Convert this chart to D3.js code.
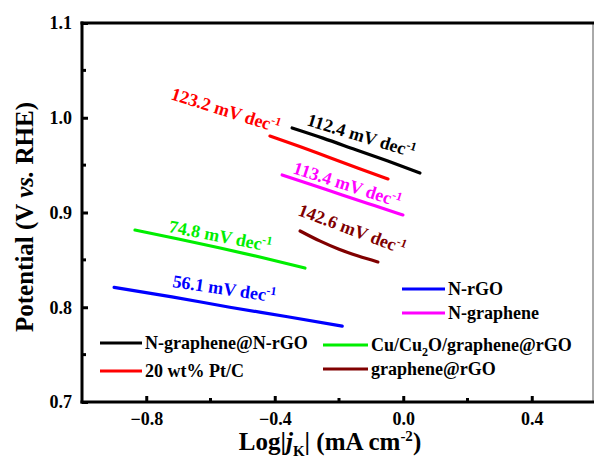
<!DOCTYPE html>
<html>
<head>
<meta charset="utf-8">
<script src="https://cdn.jsdelivr.net/npm/d3@7"></script>
<style>
  html, body { margin: 0; padding: 0; background: #fff; }
  svg { display: block; }
</style>
</head>
<body>
<svg id="chart" width="595" height="461"></svg>
<script>
// Tafel data: log|jK| (mA cm^-2) vs potential (V vs. RHE)
const seriesNames = ["N-graphene@N-rGO", "20 wt% Pt/C", "N-rGO", "N-graphene", "Cu/Cu2O/graphene@rGO", "graphene@rGO"];
const seriesColors = ["#000000", "#ff0000", "#0000ff", "#ff00ff", "#00ee00", "#800000"];

const blackX = [-0.346, -0.25, -0.15, -0.05, 0.052];
const blackY = [0.9892, 0.9785, 0.9665, 0.9545, 0.9417];
const redX = [-0.415, -0.32, -0.23, -0.14, -0.0475];
const redY = [0.9807, 0.9693, 0.9580, 0.9468, 0.9354];
const blueX = [-0.90, -0.72, -0.54, -0.36, -0.19];
const blueY = [0.821, 0.811, 0.800, 0.790, 0.780];
const magentaX = [-0.377, -0.28, -0.19, -0.09, -0.001];
const magentaY = [0.9396, 0.9288, 0.9185, 0.9073, 0.8974];
const greenX = [-0.835, -0.70, -0.57, -0.44, -0.306];
const greenY = [0.8815, 0.8720, 0.8625, 0.8525, 0.8414];
const wineX = [-0.321, -0.26, -0.20, -0.14, -0.079];
const wineY = [0.8805, 0.8700, 0.8612, 0.8540, 0.8478];

// Tafel slopes (mV dec^-1) in series order
const tafelSlopes = ["112.4", "123.2", "56.1", "113.4", "74.8", "142.6"];

const xTicks = [-0.8, -0.4, 0.0, 0.4];
const xMinorTicks = [-0.6, -0.2, 0.2];
const yTicks = [0.7, 0.8, 0.9, 1.0, 1.1];
const yMinorTicks = [0.75, 0.85, 0.95, 1.05];

const seriesX = [blackX, redX, blueX, magentaX, greenX, wineX];
const seriesY = [blackY, redY, blueY, magentaY, greenY, wineY];

// ---- layout ----
const FONT = '"Liberation Serif"';
const svg = d3.select("#chart");
const x = d3.scaleLinear().domain([-1.0, 0.6]).range([82, 596]);
const y = d3.scaleLinear().domain([0.7, 1.1]).range([402, 23]);

function styleText(sel, size) {
  return sel.style("font-family", FONT).style("font-weight", "bold")
    .style("font-size", size + "px").attr("fill", "#000");
}

// axes with inward ticks
const xAxis = d3.axisBottom(x).tickValues(xTicks).tickFormat(d3.format(".1f"))
  .tickSizeInner(-6).tickSizeOuter(0).tickPadding(10);
const gx = svg.append("g").attr("transform", "translate(0,402)").call(xAxis);
gx.select(".domain").remove();
gx.selectAll(".tick line").attr("stroke", "#000").attr("stroke-width", 3);
styleText(gx.selectAll(".tick text"), 18);

const yAxis = d3.axisLeft(y).tickValues(yTicks).tickFormat(d3.format(".1f"))
  .tickSizeInner(-6).tickSizeOuter(0).tickPadding(10);
const gy = svg.append("g").attr("transform", "translate(82,0)").call(yAxis);
gy.select(".domain").remove();
gy.selectAll(".tick line").attr("stroke", "#000").attr("stroke-width", 3);
styleText(gy.selectAll(".tick text"), 18);

// minor ticks
svg.append("g").selectAll("line").data(xMinorTicks).join("line")
  .attr("x1", d => x(d)).attr("x2", d => x(d))
  .attr("y1", 402).attr("y2", 398)
  .attr("stroke", "#000").attr("stroke-width", 3);
svg.append("g").selectAll("line").data(yMinorTicks).join("line")
  .attr("x1", 82).attr("x2", 86)
  .attr("y1", d => y(d)).attr("y2", d => y(d))
  .attr("stroke", "#000").attr("stroke-width", 3);

// frame
svg.append("line").attr("x1", 593).attr("x2", 593).attr("y1", 23).attr("y2", 402)
  .attr("stroke", "#555").attr("stroke-width", 1);
svg.append("line").attr("x1", 80.5).attr("x2", 594).attr("y1", 23).attr("y2", 23)
  .attr("stroke", "#000").attr("stroke-width", 3);
svg.append("line").attr("x1", 80.5).attr("x2", 594).attr("y1", 402).attr("y2", 402)
  .attr("stroke", "#000").attr("stroke-width", 3);
svg.append("line").attr("x1", 82).attr("x2", 82).attr("y1", 21.5).attr("y2", 403.5)
  .attr("stroke", "#000").attr("stroke-width", 3);

// Tafel lines
const line = d3.line().x(d => x(d[0])).y(d => y(d[1])).curve(d3.curveMonotoneX);
seriesX.forEach((xs, i) => {
  const pts = xs.map((v, j) => [v, seriesY[i][j]]);
  svg.append("path").datum(pts).attr("d", line)
    .attr("fill", "none").attr("stroke", seriesColors[i])
    .attr("stroke-width", 3.2).attr("stroke-linecap", "round");
});

// slope annotations: anchor (data coords) and rotation in degrees
const slopeLabelPos = [
  { x: -0.303, y: 0.9923, angle: 17 },
  { x: -0.726, y: 1.0198, angle: 17.5 },
  { x: -0.720, y: 0.8214, angle: 8.5 },
  { x: -0.346, y: 0.9417, angle: 18 },
  { x: -0.732, y: 0.8794, angle: 11 },
  { x: -0.331, y: 0.8974, angle: 20.5 }
];
tafelSlopes.forEach((s, i) => {
  const p = slopeLabelPos[i];
  const t = styleText(svg.append("text"), 18)
    .attr("transform", `translate(${x(p.x)},${y(p.y)}) rotate(${p.angle})`)
    .attr("fill", seriesColors[i]);
  t.append("tspan").text(`${s} mV dec`);
  t.append("tspan").attr("dy", -7).style("font-size", "12px").text("-1");
});

// legend
const legendPos = [
  { x: 100, y: 343, len: 42 },
  { x: 100, y: 371, len: 42 },
  { x: 402, y: 289, len: 43 },
  { x: 402, y: 313, len: 43 },
  { x: 323, y: 345, len: 45 },
  { x: 323, y: 369, len: 45 }
];
seriesNames.forEach((name, i) => {
  const p = legendPos[i];
  svg.append("line").attr("x1", p.x).attr("x2", p.x + p.len)
    .attr("y1", p.y).attr("y2", p.y)
    .attr("stroke", seriesColors[i]).attr("stroke-width", 3.2);
  const t = styleText(svg.append("text"), 18)
    .attr("x", p.x + p.len + 3).attr("y", p.y + 6);
  if (name === "Cu/Cu2O/graphene@rGO") {
    t.append("tspan").text("Cu/Cu");
    t.append("tspan").attr("dy", 5).style("font-size", "12px").text("2");
    t.append("tspan").attr("dy", -5).text("O/graphene@rGO");
  } else {
    t.text(name);
  }
});

// axis titles
const yt = styleText(svg.append("text"), 25)
  .attr("transform", "translate(33,217) rotate(-90)")
  .attr("text-anchor", "middle");
yt.append("tspan").text("Potential (V ");
yt.append("tspan").style("font-style", "italic").text("vs.");
yt.append("tspan").text(" RHE)");

const xt = styleText(svg.append("text"), 25)
  .attr("x", 330).attr("y", 450)
  .attr("text-anchor", "middle");
xt.append("tspan").text("Log|");
xt.append("tspan").style("font-style", "italic").text("j");
xt.append("tspan").attr("dy", 6).style("font-size", "15px").text("K");
xt.append("tspan").attr("dy", -6).text("| (mA cm");
xt.append("tspan").attr("dy", -9).style("font-size", "15px").text("-2");
xt.append("tspan").attr("dy", 9).text(")");
</script>
</body>
</html>
